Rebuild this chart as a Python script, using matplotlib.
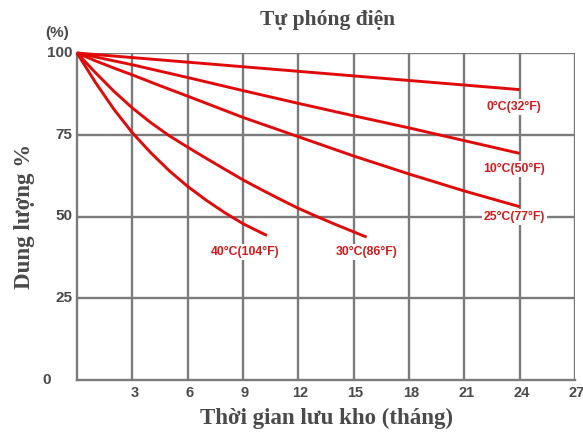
import matplotlib
matplotlib.use("Agg")
import matplotlib.pyplot as plt
import matplotlib.transforms as mtransforms

# storage time (months) and remaining capacity (%) for each temperature
months_0c = [0, 6, 12, 18, 24]
cap_0c = [100, 97.2, 94.4, 91.6, 88.8]

months_10c = [0, 3, 6, 9, 12, 15, 18, 21, 24]
cap_10c = [100, 96.4, 92.5, 88.5, 84.6, 80.8, 77.1, 73.2, 69.3]

months_25c = [0, 1, 2, 3, 4.5, 6, 9, 12, 15, 18, 21, 24]
cap_25c = [100, 97.6, 95.4, 93.3, 90.0, 86.8, 80.3, 74.4, 68.5, 63.0, 57.8, 53.0]

months_30c = [0, 1, 2, 3, 4, 5, 6, 7, 8, 9, 10, 11, 12, 13, 14, 15, 15.7]
cap_30c = [100, 94.0, 88.3, 83.2, 78.7, 74.7, 71.2, 67.8, 64.5, 61.2, 58.2,
           55.3, 52.5, 50.0, 47.6, 45.3, 43.7]

months_40c = [0, 1, 2, 3, 4, 5, 6, 7, 8, 9, 10, 10.3]
cap_40c = [100, 91.0, 82.8, 75.6, 69.5, 64.0, 59.2, 55.0, 51.2, 47.8, 45.0, 44.2]

series_labels = ["0°C(32°F)", "10°C(50°F)", "25°C(77°F)", "30°C(86°F)", "40°C(104°F)"]
x_ticks = [3, 6, 9, 12, 15, 18, 21, 24, 27]
y_ticks = [0, 25, 50, 75, 100]

RED = "#e00a0a"
LABEL_RED = "#d41a1a"
GRID = "#7b7b7b"
TEXT = "#4a4a4a"

fig = plt.figure(figsize=(5.83, 4.41), dpi=100)
ax = fig.add_axes([77 / 583, 1 - 380 / 441, (575 - 77) / 583, (380 - 53) / 441])
ax.set_xlim(0, 27)
ax.set_ylim(0, 100)

# grid
for x in x_ticks:
    ax.axvline(x, color=GRID, lw=1.7, zorder=1)
for y in y_ticks[1:]:
    ax.axhline(y, color=GRID, lw=1.7, zorder=1)
for side in ax.spines.values():
    side.set_color(GRID)
    side.set_linewidth(1.7)
ax.spines["right"].set_visible(False)
ax.spines["top"].set_visible(False)

curves = [
    (months_0c, cap_0c),
    (months_10c, cap_10c),
    (months_25c, cap_25c),
    (months_30c, cap_30c),
    (months_40c, cap_40c),
]
for xs, ys in curves:
    ax.plot(xs, ys, color=RED, lw=2.1, solid_capstyle="butt", solid_joinstyle="round",
            zorder=3, clip_on=False)

label_pos = [(23.7, 83.5), (23.7, 64.5), (23.7, 49.8), (15.7, 39.2), (9.1, 39.2)]
for text, (lx, ly) in zip(series_labels, label_pos):
    ax.text(lx, ly, text, color=LABEL_RED, fontsize=8.8, fontweight="bold",
            family="Liberation Sans", ha="center", va="center", zorder=4,
            bbox=dict(facecolor="white", edgecolor="none", pad=1.2))

# ticks
ax.set_xticks(x_ticks)
ax.set_xticklabels([str(v) for v in x_ticks])
ax.set_yticks([])
ax.tick_params(axis="x", length=0, pad=4, labelsize=10.5, labelcolor=TEXT)
for lab in ax.get_xticklabels():
    lab.set_fontweight("bold")
    lab.set_family("Liberation Sans")
    lab.set_transform(lab.get_transform() + mtransforms.ScaledTranslation(2 / 100, 0, fig.dpi_scale_trans))

ytrans = mtransforms.blended_transform_factory(fig.transFigure, ax.transData)
for v in y_ticks:
    xpos = 47 / 583 if v == 0 else 72 / 583
    ax.text(xpos, v, str(v), transform=ytrans, ha="center" if v == 0 else "right",
            va="center", fontsize=11, fontweight="bold", color=TEXT,
            family="Liberation Sans")
fig.text(57 / 583, 1 - 33 / 441, "(%)", ha="center", va="center", fontsize=11,
         fontweight="bold", color=TEXT, family="Liberation Sans")

fig.text(328 / 583, 1 - 20 / 441, "Tự phóng điện", ha="center", va="center",
         fontsize=15.5, fontweight="bold", color=TEXT, family="Liberation Serif")
fig.text(327 / 583, 1 - 418 / 441, "Thời gian lưu kho (tháng)", ha="center", va="center",
         fontsize=16.5, fontweight="bold", color=TEXT, family="Liberation Serif")
fig.text(25 / 583, 1 - 216 / 441, "Dung lượng %", ha="center", va="center", rotation=90,
         fontsize=16.5, fontweight="bold", color=TEXT, family="Liberation Serif")

fig.savefig("out.png", dpi=100)
